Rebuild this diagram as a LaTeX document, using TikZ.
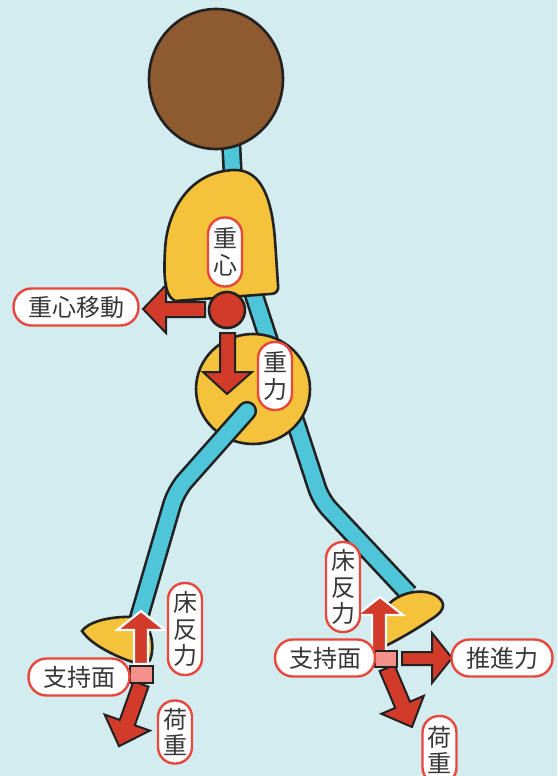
\documentclass[tikz,border=0pt]{standalone}
\usepackage{fontspec}
\usepackage{xcolor}
\newfontfamily\jpfont{Noto Sans CJK JP}

\definecolor{bgcyan}{HTML}{D3ECF0}
\definecolor{bodyyellow}{HTML}{F4C33B}
\definecolor{legblue}{HTML}{4EC5D9}
\definecolor{headbrown}{HTML}{8E5A2F}
\definecolor{arrred}{HTML}{D23B2A}
\definecolor{lblred}{HTML}{E9473B}
\definecolor{padpink}{HTML}{F4918A}
\definecolor{inkline}{HTML}{222222}
\definecolor{txtgray}{HTML}{383838}

\begin{document}
\begin{tikzpicture}[x=1pt, y=-1pt,
    outline/.style={draw=inkline, line width=2.6pt},
    limb/.style={draw=inkline, line width=2.6pt, double=legblue, double distance=15pt, line join=round},
    forcearrow/.style={fill=arrred, draw=inkline, line width=2pt, line join=miter},
    reactarrow/.style={fill=arrred, draw=white, line width=2.2pt, line join=miter},
    lbl/.style={draw=lblred, line width=2.4pt, fill=white, inner sep=0pt, text=txtgray,
        align=center, font=\jpfont\fontsize{24pt}{26.5pt}\selectfont},
    hlbl/.style={lbl, minimum height=37pt, rounded corners=18pt},
    vlbl/.style={lbl, minimum width=34pt, rounded corners=16.5pt}]

    % page and background
    \useasboundingbox (0,0) rectangle (557,776);
    \clip (0,0) rectangle (557,776);
    \fill[bgcyan] (0,0) rectangle (557,776);

    % neck, spine and back leg
    \draw[limb, rounded corners=12pt] (230,120) -- (236,240) -- (321,500) -- (409,594);

    % head
    \draw[outline, fill=headbrown] (216,79) ellipse [x radius=67, y radius=70];

    % upper body
    \draw[outline, fill=bodyyellow] (175,301) .. controls (163,295) and (164,270) .. (165,250)
        .. controls (167,210) and (190,171) .. (235,170)
        .. controls (262,170) and (272,200) .. (275,240) -- (278,285)
        .. controls (279,292) and (275,294) .. (270,294) -- cycle;

    % hip
    \draw[outline, fill=bodyyellow] (253,389) ellipse [x radius=57, y radius=55];

    % front leg
    \draw[limb, line cap=round, rounded corners=14pt] (247,411) -- (176,491) -- (136,628);

    % feet
    \draw[outline, fill=bodyyellow] (82,631) .. controls (90,620) and (115,616) .. (135,617)
        .. controls (150,620) and (156,645) .. (150,660)
        .. controls (145,667) and (130,662) .. (115,655)
        .. controls (100,648) and (88,640) .. (82,631) -- cycle;
    \draw[outline, fill=bodyyellow] (389,604) .. controls (400,592) and (425,587) .. (438,597)
        .. controls (448,605) and (442,613) .. (430,620)
        .. controls (415,630) and (398,640) .. (385,646) -- (383,625) -- cycle;

    % centre of gravity: shift and weight
    \draw[forcearrow] (205,302) -- (166,302) -- (166,285) -- (143,309) -- (166,333)
        -- (166,317) -- (205,317) -- cycle;
    \draw[outline, fill=arrred] (227,310) circle [radius=18];
    \draw[forcearrow] (220,333) -- (235,333) -- (235,372) -- (252,372) -- (227,394)
        -- (203,372) -- (220,372) -- cycle;

    % front foot: load and reaction
    \draw[forcearrow] (133.5,681.3) -- (148.5,686.7) -- (134.8,725.3) -- (149.9,730.6)
        -- (119,746.2) -- (104.7,714.6) -- (119.8,719.9) -- cycle;
    \draw[reactarrow] (134,664) -- (134,630) -- (117,630) -- (141,611) -- (165,630)
        -- (148,630) -- (148,664) -- cycle;
    \draw[draw=inkline, line width=2pt, fill=padpink] (130,666) rectangle (153,683);

    % back foot: load, reaction and push-off
    \draw[forcearrow] (379.6,671.1) -- (394.4,664.9) -- (410,701.7) -- (423.8,695.8)
        -- (412,727) -- (381.4,713.8) -- (395.2,707.9) -- cycle;
    \draw[forcearrow] (402,652) -- (432,652) -- (432,633) -- (452,658) -- (432,683)
        -- (432,665) -- (402,665) -- cycle;
    \draw[reactarrow] (372,652) -- (372,615) -- (357,615) -- (380,597) -- (403,615)
        -- (386,615) -- (386,652) -- cycle;
    \draw[draw=inkline, line width=2pt, fill=padpink] (375,651) rectangle (397,667);

    % labels
    \node[vlbl, minimum height=69pt] (cog) at (225,252) {重\\心};
    \node[hlbl, minimum width=125pt] (cogshift) at (76,307) {重心移動};
    \node[vlbl, minimum height=68pt] (gravity) at (275,376) {重\\力};
    \node[vlbl, minimum height=92pt] (grfL) at (185,629) {床\\反\\力};
    \node[hlbl, minimum width=101pt] (baseL) at (79,677) {支持面};
    \node[vlbl, minimum height=63pt] (loadL) at (175,732) {荷\\重};
    \node[vlbl, minimum height=90pt] (grfR) at (343,587) {床\\反\\力};
    \node[hlbl, minimum width=100pt] (baseR) at (325,658) {支持面};
    \node[hlbl, minimum width=101pt] (propel) at (502,658) {推進力};
    \node[vlbl, minimum height=68pt] (loadR) at (439.5,750) {荷\\重};

\end{tikzpicture}
\end{document}
